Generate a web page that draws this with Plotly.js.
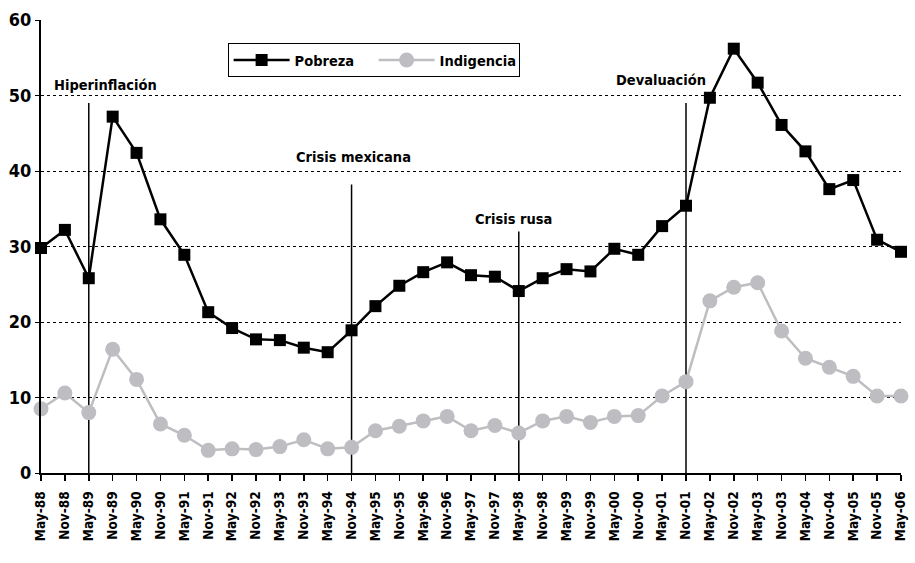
<!DOCTYPE html>
<html><head><meta charset="utf-8">
<script src="https://cdn.plot.ly/plotly-3.0.1.min.js"></script>
<style>html,body{margin:0;padding:0;background:#fff}#chart{width:915px;height:563px}</style>
</head><body><div id="chart"></div>
<script>
const periods = ["May-88","Nov-88","May-89","Nov-89","May-90","Nov-90","May-91","Nov-91","May-92","Nov-92","May-93","Nov-93","May-94","Nov-94","May-95","Nov-95","May-96","Nov-96","May-97","Nov-97","May-98","Nov-98","May-99","Nov-99","May-00","Nov-00","May-01","Nov-01","May-02","Nov-02","May-03","Nov-03","May-04","Nov-04","May-05","Nov-05","May-06"];
const pobreza = [29.8,32.2,25.8,47.2,42.4,33.6,28.9,21.3,19.2,17.7,17.6,16.6,16.0,18.9,22.1,24.8,26.6,27.9,26.2,26.0,24.1,25.8,27.0,26.7,29.7,28.9,32.7,35.4,49.7,56.2,51.7,46.1,42.6,37.6,38.8,30.9,29.3];
const indigencia = [8.5,10.6,8.0,16.4,12.4,6.5,5.0,3.0,3.2,3.1,3.5,4.4,3.2,3.4,5.6,6.2,6.9,7.5,5.6,6.3,5.3,6.9,7.5,6.7,7.5,7.6,10.2,12.1,22.8,24.6,25.2,18.8,15.2,14.0,12.8,10.2,10.2];
const eventLabels = ["Hiperinflación","Crisis mexicana","Crisis rusa","Devaluación"];
const eventPeriods = ["May-89","Nov-94","May-98","Nov-01"];
const eventLineTop = [49,38.2,32,49];
const labelX = [0.46,10.6,18.1,24.0];
const labelY = [51.4,41.9,33.6,52.1];
const yTicks = [0,10,20,30,40,50,60];

const FONT = '"DejaVu Sans Condensed","Liberation Sans Narrow",Arial,sans-serif';

const traces = [
  {x: periods, y: pobreza, name: 'Pobreza', type: 'scatter', mode: 'lines+markers',
   line: {color: '#000', width: 2.5}, marker: {symbol: 'square', size: 12, color: '#000'}, cliponaxis: false},
  {x: periods, y: indigencia, name: 'Indigencia', type: 'scatter', mode: 'lines+markers',
   line: {color: '#bebec2', width: 2.5}, marker: {symbol: 'circle', size: 15, color: '#bebec2'}, cliponaxis: false}
];

const shapes = eventPeriods.map((p, i) => ({
  type: 'line', xref: 'x', yref: 'y', x0: p, x1: p, y0: 0, y1: eventLineTop[i],
  line: {color: '#000', width: 1.5}, layer: 'below'
}));

const annotations = eventLabels.map((t, i) => ({
  text: '<b>' + t + '</b>', xref: 'x', yref: 'y', x: labelX[i], y: labelY[i],
  xanchor: 'left', yanchor: 'middle', showarrow: false,
  font: {family: FONT, size: 14.5, color: '#000'}
}));

const layout = {
  width: 915, height: 563,
  margin: {l: 41, r: 14, t: 20, b: 90},
  paper_bgcolor: '#fff', plot_bgcolor: '#fff',
  font: {family: FONT, color: '#000'},
  showlegend: true,
  legend: {orientation: 'h', x: 0.217, y: 0.949, xanchor: 'left', yanchor: 'top',
    bordercolor: '#000', borderwidth: 1, bgcolor: '#fff', itemwidth: 56,
    font: {family: FONT, size: 14.5, color: '#000', weight: 'bold'}, entrywidth: 74},
  xaxis: {type: 'category', range: [0, 36], showgrid: false, showline: true, linecolor: '#000', linewidth: 2,
    ticks: 'outside', ticklen: 6, tickwidth: 1.5, tickcolor: '#000', tickangle: -90, ticklabelstandoff: 5,
    tickfont: {family: FONT, size: 13.5, color: '#000', weight: 'bold'}, zeroline: false, fixedrange: true},
  yaxis: {range: [0, 60], tickvals: yTicks, ticktext: yTicks.map(String), showgrid: true, gridcolor: '#000', griddash: 'dot', gridwidth: 1,
    showline: true, linecolor: '#000', linewidth: 2, ticks: 'outside', ticklen: 4, tickcolor: '#000',
    tickfont: {family: FONT, size: 18, color: '#000', weight: 'bold'}, zeroline: false, fixedrange: true},
  shapes: shapes,
  annotations: annotations
};

Plotly.newPlot('chart', traces, layout, {displayModeBar: false, staticPlot: true});
</script>
</body></html>
